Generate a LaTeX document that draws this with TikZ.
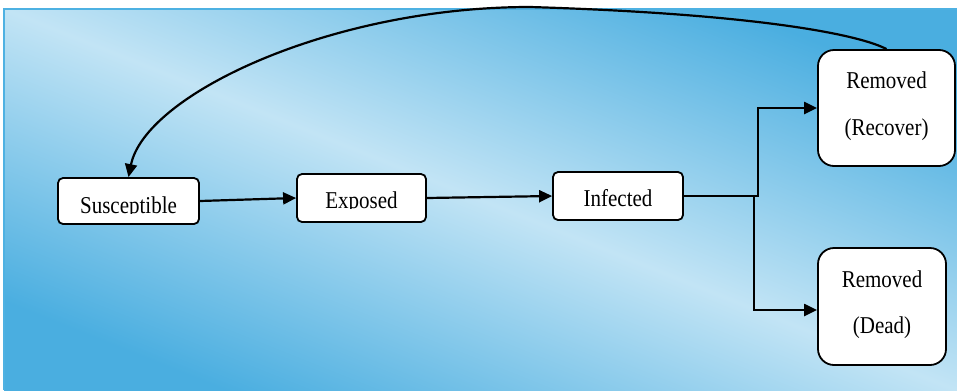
\documentclass[tikz,border=0pt]{standalone}
\usepackage{fontspec}
\setmainfont{Liberation Serif}
\usepackage{graphicx}
\usetikzlibrary{arrows.meta,calc}

\definecolor{skydark}{RGB}{74,174,224}
\definecolor{skylight}{RGB}{194,228,245}
\definecolor{skyedge}{RGB}{78,177,226}

\tikzset{
  box/.style={draw=black, line width=1.8pt, fill=white, rounded corners=5pt,
    inner sep=0pt},
  bigbox/.style={box, rounded corners=16pt},
  txt/.style={font=\fontsize{21}{24}\selectfont, inner sep=0pt, anchor=base},
  link/.style={line width=2.2pt, -{Triangle[length=13pt,width=12pt]}},
}

\newcommand{\tall}[1]{\scalebox{1}[1.15]{#1}}

\begin{document}
\begin{tikzpicture}[x=1pt,y=-1pt]
  \useasboundingbox (0,0) rectangle (957,391);

  % shaded backdrop
  \shade[top color=skydark, bottom color=skydark, middle color=skylight,
         shading angle=-21.8] (4,9) rectangle (957,390);
  \draw[skyedge, line width=1.2pt] (4,390) -- (4,9) -- (957,9);

  % compartments
  \node[box, minimum width=141pt, minimum height=46pt] (sus) at (128.5,201) {};
  \node[box, minimum width=129pt, minimum height=48pt] (exp) at (361.5,198) {};
  \node[box, minimum width=130pt, minimum height=48pt] (inf) at (618,196) {};
  \node[bigbox, minimum width=137pt, minimum height=116pt] (rec) at (886.5,108) {};
  \node[bigbox, minimum width=128pt, minimum height=117pt] (dead) at (882,306.5) {};

  % labels (single-line ones are cut at the baseline)
  \begin{scope}
    \clip (58,170) rectangle (200,213.5);
    \node[txt] (tsus) at (128.5,213) {\tall{Susceptible}};
  \end{scope}
  \begin{scope}
    \clip (297,170) rectangle (427,208.5);
    \node[txt] (texp) at (361.5,208) {\tall{Exposed}};
  \end{scope}
  \node[txt] (tinf) at (618,206) {\tall{Infected}};
  \node[txt] (trec1) at (886.5,88) {\tall{Removed}};
  \node[txt] (trec2) at (886.5,135) {\tall{(Recover)}};
  \node[txt] (tdead1) at (882,287) {\tall{Removed}};
  \node[txt] (tdead2) at (882,333) {\tall{(Dead)}};

  % flows
  \coordinate (jr) at (758,196);
  \coordinate (jd) at (754,196);
  \draw[link] (sus.east) -- (exp.west);
  \draw[link] (exp.east) -- (inf.west);
  \draw[link] (inf.east) -- (jr) |- (rec.west);
  \draw[link] (inf.east) -- (jd) |- ($(dead.west)+(0,3.5)$);
  \draw[link] (rec.north) .. controls (860,35) and (760,14) .. (530,7)
              .. controls (330,7) and (145,95) .. (sus.north);
\end{tikzpicture}
\end{document}
